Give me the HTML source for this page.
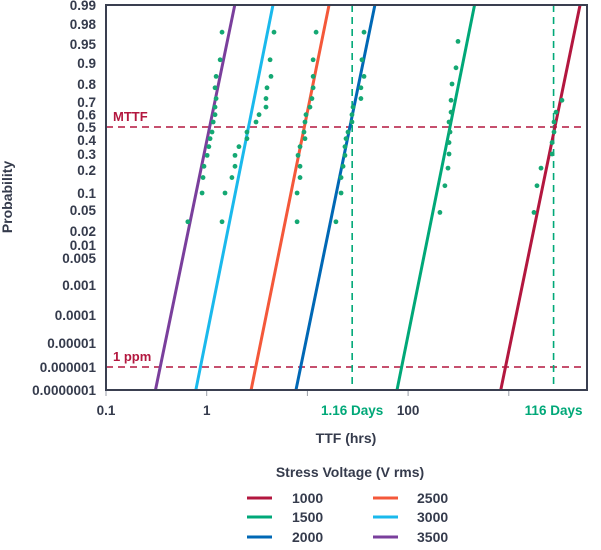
<!DOCTYPE html>
<html><head><meta charset="utf-8"><style>
html,body{margin:0;padding:0;background:#fff;}
svg{display:block;font-family:"Liberation Sans",sans-serif;font-weight:bold;}
</style></head><body>
<svg id="chart" width="601" height="550" viewBox="0 0 601 550" xmlns="http://www.w3.org/2000/svg"></svg>
<script>
const yTickLabels=["0.99","0.98","0.95","0.9","0.8","0.7","0.6","0.5","0.4","0.3","0.2","0.1","0.05","0.02","0.01","0.005","0.001","0.0001","0.00001","0.000001","0.0000001"];
const yTickValues=[0.99,0.98,0.95,0.9,0.8,0.7,0.6,0.5,0.4,0.3,0.2,0.1,0.05,0.02,0.01,0.005,0.001,0.0001,0.00001,0.000001,0.0000001];
const xTickValues=[0.1,1,10,100,1000];
const xTickLabels=["0.1","1","","100",""];
const seriesNames=["1000","1500","2000","2500","3000","3500"];
const seriesColors=["#b3173f","#00a878","#0068b5","#f4583a","#1ab9ec","#7a3f9c"];
// fitted lines: time at p=1e-7 and at p=0.99
const lineLow=[832,77.6,7.7,2.76,0.78,0.31];
const lineHigh=[5100,457,46.8,16.4,4.55,1.9];
const probs16=[0.03,0.1,0.16,0.22,0.29,0.35,0.41,0.46,0.54,0.6,0.66,0.72,0.78,0.84,0.91,0.97];
const probs12=[0.045,0.125,0.21,0.3,0.38,0.46,0.54,0.62,0.71,0.8,0.88,0.955];
const t3500=[0.65,0.90,0.92,0.94,1.01,1.05,1.08,1.13,1.16,1.21,1.21,1.24,1.21,1.24,1.36,1.42];
const t3000=[1.42,1.52,1.78,1.91,1.91,2.09,2.51,2.51,3.09,3.31,3.88,3.88,3.97,4.35,4.26,4.66];
const t2500=[7.9,7.9,8.45,8.45,8.07,8.45,9.46,9.25,9.46,9.68,10.6,11.1,11.4,11.4,11.4,12.2];
const t2000=[19.2,21.6,21.6,22.6,23.6,23.6,24.2,25.3,27.7,27.7,28.4,34.0,34.0,36.5,34.8,36.5];
const t1500=[207,232,249,255,255,261,255,267,267,273,299,313];
const t1000=[1778,1905,2089,2692,2692,2812,2812,2944,3373];
const markerTimes=[27.84,2784];
const markerLabels=["1.16 Days","116 Days"];
const hLineProbs=[0.5,0.000001];
const hLineLabels=["MTTF","1 ppm"];

const NS="http://www.w3.org/2000/svg";
const svg=document.getElementById("chart");
const L=106,R=587,T=5,B=390;
function X(t){return L+100.7*(Math.log10(t)+1);}
// probability scale breakpoints (scale definition)
const yPix=[5,24,44,63,84,102,114.7,127,140,154,170,193,210,231,245,258,285,315,343,367,390];
function W(p){return Math.log(-Math.log(1-p));}
function Y(p){
  const w=W(p);
  for(let i=0;i<yTickValues.length-1;i++){
    const a=W(yTickValues[i]),b=W(yTickValues[i+1]);
    if(w<=a&&w>=b){return yPix[i]+(yPix[i+1]-yPix[i])*(a-w)/(a-b);}
  }
  if(w>W(yTickValues[0]))return yPix[0];
  return yPix[yPix.length-1];
}
function el(tag,attrs,parent){const e=document.createElementNS(NS,tag);for(const k in attrs)e.setAttribute(k,attrs[k]);(parent||svg).appendChild(e);return e;}
const ink="#353b4c";

// y tick labels
yTickValues.forEach((v,i)=>{
  const t=el("text",{x:96,y:Y(v)+5,"text-anchor":"end","font-size":"13.5",fill:ink});
  
  
  t.textContent=yTickLabels[i];
});
// x ticks
xTickValues.forEach((v,i)=>{
  const tk=el("line",{x1:X(v),x2:X(v),y1:B,y2:B+6,stroke:"#9a9ea8","stroke-width":1});
  
  
  if(xTickLabels[i]){
    const t=el("text",{x:X(v),y:415,"text-anchor":"middle","font-size":"13.5",fill:ink});
    
    
    t.textContent=xTickLabels[i];
  }
});
// horizontal dashed lines
hLineProbs.forEach((p,i)=>{
  const ln=el("line",{x1:L,x2:R,y1:Y(p),y2:Y(p),stroke:"#b3173f","stroke-width":1.6,"stroke-dasharray":"7,5"});
  
  
  const t=el("text",{x:113,y:Y(p)-6,"font-size":"13",fill:"#b3173f"});
  
  
  t.textContent=hLineLabels[i];
});
// vertical markers
markerTimes.forEach((m,i)=>{
  const ln=el("line",{x1:X(m),x2:X(m),y1:T,y2:B,stroke:"#00a878","stroke-width":1.6,"stroke-dasharray":"7,5"});
  
  
  const t=el("text",{x:X(m),y:415,"text-anchor":"middle","font-size":"13.5",fill:"#00a878"});
  
  
  t.textContent=markerLabels[i];
});
// fit lines
const clipG=el("g",{});
seriesNames.forEach((n,i)=>{
  const ln=el("line",{x1:X(lineLow[i]),y1:Y(0.0000001),x2:X(lineHigh[i]),y2:Y(0.99),stroke:seriesColors[i],"stroke-width":3});
  
  
});
// dots
const dotSets=[[t1000,probs12],[t1500,probs12],[t2000,probs16],[t2500,probs16],[t3000,probs16],[t3500,probs16]];
dotSets.forEach((ds,i)=>{
  ds[0].forEach((t,j)=>{
    const c=el("circle",{cx:X(t),cy:Y(ds[1][j]),r:2.4,fill:"#14a873"});
    
    
  });
});
// frame
const fr=el("rect",{x:L,y:T,width:R-L,height:B-T,fill:"none",stroke:"#3a3f50","stroke-width":2});


// axis titles
const yt=el("text",{x:0,y:0,transform:"translate(12,197) rotate(-90)","text-anchor":"middle","font-size":"14",fill:ink});


yt.textContent="Probability";
const xt=el("text",{x:346,y:443,"text-anchor":"middle","font-size":"14",fill:ink});


xt.textContent="TTF (hrs)";
// legend
const lt=el("text",{x:350,y:477,"text-anchor":"middle","font-size":"14",fill:ink});


lt.textContent="Stress Voltage (V rms)";
const rowsY=[498,517,537];
seriesNames.forEach((n,i)=>{
  const col=Math.floor(i/3),row=i%3;
  const lx=col?373:247, tx=col?417:292;
  const g=el("g",{});
  
  
  el("line",{x1:lx,x2:lx+25,y1:rowsY[row],y2:rowsY[row],stroke:seriesColors[i],"stroke-width":3},g);
  const t=el("text",{x:tx,y:rowsY[row]+5,"font-size":"14",fill:ink},g);
  t.textContent=n;
});
</script>
</body></html>
